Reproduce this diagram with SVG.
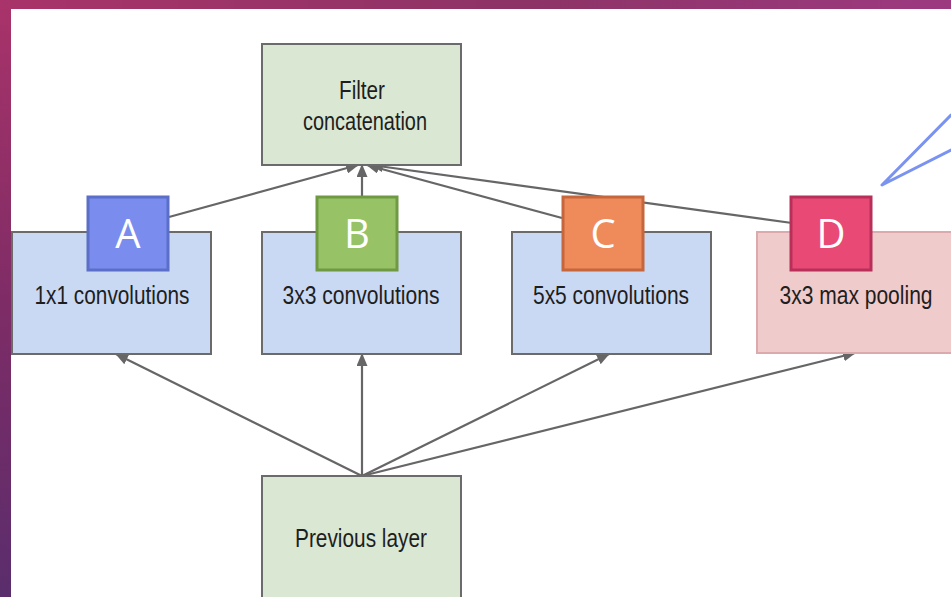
<svg xmlns="http://www.w3.org/2000/svg" width="951" height="597" viewBox="0 0 951 597">
  <defs>
    <linearGradient id="bgTop" x1="0" y1="0" x2="1" y2="0">
      <stop offset="0" stop-color="#a9336a"/>
      <stop offset="0.55" stop-color="#8d3366"/>
      <stop offset="1" stop-color="#9c3a80"/>
    </linearGradient>
    <linearGradient id="bgLeft" x1="0" y1="0" x2="0" y2="1">
      <stop offset="0" stop-color="#a9336a"/>
      <stop offset="0.5" stop-color="#7f2c66"/>
      <stop offset="1" stop-color="#5a2d6c"/>
    </linearGradient>
    <marker id="arr" viewBox="0 0 13 11" refX="12" refY="5.5" markerWidth="13" markerHeight="11" markerUnits="userSpaceOnUse" orient="auto">
      <path d="M0,0 L13,5.5 L0,11 Z" fill="#666"/>
    </marker>
    <style>
      .box { stroke: #6b6b6b; stroke-width: 2; }
      .green { fill: #d9e7d3; }
      .blue { fill: #c9d9f3; }
      .pink { fill: #f0cbcb; stroke: #dcaaac; }
      .lbl { font-family: "Liberation Sans", Arial, sans-serif; font-size: 25px; fill: #1e1e1e; text-anchor: middle; }
      .badge { stroke-width: 3; }
      .bl { font-family: "Open Sans", "Liberation Sans", sans-serif; font-size: 40px; fill: #fff; text-anchor: middle; }
      .conn line { stroke: #666; stroke-width: 2.2; fill: none; }
    </style>
  </defs>

  <rect x="0" y="0" width="951" height="597" fill="url(#bgLeft)"/>
  <rect x="0" y="0" width="951" height="9" fill="url(#bgTop)"/>
  <rect x="11" y="9" width="940" height="588" fill="#ffffff"/>

  <g class="conn" id="connectors">
    <line x1="362" y1="476" x2="116" y2="354" marker-end="url(#arr)"/>
    <line x1="362" y1="476" x2="362" y2="354" marker-end="url(#arr)"/>
    <line x1="362" y1="476" x2="609" y2="354" marker-end="url(#arr)"/>
    <line x1="362" y1="476" x2="855" y2="353" marker-end="url(#arr)"/>
    <line x1="169" y1="217" x2="358" y2="165" marker-end="url(#arr)"/>
    <line x1="362" y1="196" x2="362" y2="165" marker-end="url(#arr)"/>
    <line x1="562" y1="218" x2="367" y2="165" marker-end="url(#arr)"/>
    <line x1="792" y1="223" x2="371" y2="165" marker-end="url(#arr)"/>
  </g>

  <g id="filter-concat">
    <rect class="box green" x="262" y="44" width="199" height="121"/>
    <text class="lbl" x="362" y="99" font-size="26" textLength="46" lengthAdjust="spacingAndGlyphs">Filter</text>
    <text class="lbl" x="365" y="130" font-size="26" textLength="124" lengthAdjust="spacingAndGlyphs">concatenation</text>
  </g>

  <g id="conv1x1">
    <rect class="box blue" x="12" y="232" width="199" height="122"/>
    <text class="lbl" x="112" y="304" textLength="155" lengthAdjust="spacingAndGlyphs">1x1 convolutions</text>
  </g>

  <g id="conv3x3">
    <rect class="box blue" x="262" y="232" width="199" height="122"/>
    <text class="lbl" x="361" y="304" textLength="157" lengthAdjust="spacingAndGlyphs">3x3 convolutions</text>
  </g>

  <g id="conv5x5">
    <rect class="box blue" x="512" y="232" width="199" height="122"/>
    <text class="lbl" x="611" y="304" textLength="156" lengthAdjust="spacingAndGlyphs">5x5 convolutions</text>
  </g>

  <g id="maxpool">
    <rect class="box pink" x="757" y="232" width="196" height="121"/>
    <text class="lbl" x="856" y="304" textLength="153" lengthAdjust="spacingAndGlyphs">3x3 max pooling</text>
  </g>

  <g id="previous-layer">
    <rect class="box green" x="262" y="476" width="199" height="130"/>
    <text class="lbl" x="361" y="547" textLength="132" lengthAdjust="spacingAndGlyphs">Previous layer</text>
  </g>

  <g id="badge-A">
    <rect class="badge" x="88" y="197" width="80" height="73" fill="#7a8dee" stroke="#5b6ec8"/>
    <text class="bl" x="128" y="248">A</text>
  </g>
  <g id="badge-B">
    <rect class="badge" x="317" y="197" width="80" height="73" fill="#97c266" stroke="#6f9a43"/>
    <text class="bl" x="357" y="248">B</text>
  </g>
  <g id="badge-C">
    <rect class="badge" x="563" y="197" width="80" height="73" fill="#ef8a5a" stroke="#c5663c"/>
    <text class="bl" x="603" y="248">C</text>
  </g>
  <g id="badge-D">
    <rect class="badge" x="791" y="197" width="80" height="73" fill="#e84a75" stroke="#b8305a"/>
    <text class="bl" x="831" y="248">D</text>
  </g>

  <g id="callout">
    <polyline points="951,115 882,185 951,150" fill="none" stroke="#7b93f0" stroke-width="3" stroke-linejoin="round" stroke-linecap="round"/>
  </g>
</svg>
